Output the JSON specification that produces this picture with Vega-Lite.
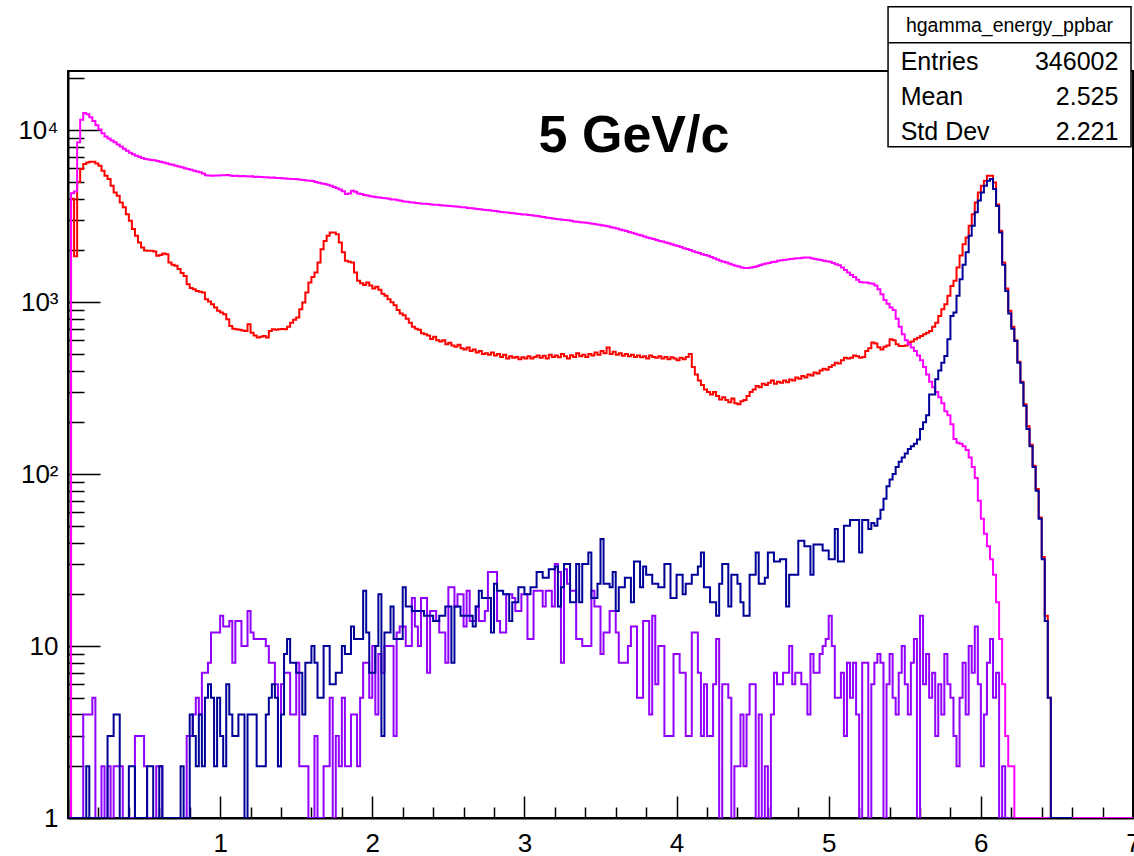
{
  "$schema": "https://vega.github.io/schema/vega-lite/v6.json",
  "width": 1065,
  "height": 747,
  "autosize": {"type": "none"},
  "padding": {"left": 68, "top": 71, "right": 1, "bottom": 38},
  "background": "white",
  "config": {"view": {"stroke": "#000", "strokeWidth": 2}, "font": "Liberation Sans"},
  "data": {"values": [
{"x":0.00,"m":1,"r":1,"b":1,"v":1},{"x":0.02,"m":4300,"r":4000,"b":1,"v":1},{"x":0.04,"m":4400,"r":1850,"b":1,"v":1},{"x":0.06,"m":8500,"r":5000,"b":1,"v":1},{"x":0.08,"m":11500,"r":5950,"b":1,"v":1},
{"x":0.10,"m":12600,"r":6360,"b":1,"v":4},{"x":0.12,"m":12400,"r":6500,"b":2,"v":4},{"x":0.14,"m":11900,"r":6560,"b":1,"v":4},{"x":0.16,"m":11300,"r":6560,"b":1,"v":5},{"x":0.18,"m":10700,"r":6400,"b":1,"v":1},
{"x":0.20,"m":10100,"r":6210,"b":1,"v":1},{"x":0.22,"m":9600,"r":5810,"b":1,"v":2},{"x":0.24,"m":9200,"r":5430,"b":1,"v":1},{"x":0.26,"m":8950,"r":5200,"b":3,"v":2},{"x":0.28,"m":8700,"r":4750,"b":3,"v":1},
{"x":0.30,"m":8500,"r":4350,"b":4,"v":2},{"x":0.32,"m":8250,"r":4160,"b":4,"v":2},{"x":0.34,"m":8050,"r":3800,"b":1,"v":2},{"x":0.36,"m":7800,"r":3560,"b":1,"v":1},{"x":0.38,"m":7600,"r":3250,"b":1,"v":1},
{"x":0.40,"m":7400,"r":2970,"b":2,"v":1},{"x":0.42,"m":7250,"r":2660,"b":2,"v":1},{"x":0.44,"m":7100,"r":2430,"b":1,"v":3},{"x":0.46,"m":7000,"r":2220,"b":1,"v":3},{"x":0.48,"m":6900,"r":2080,"b":1,"v":3},
{"x":0.50,"m":6800,"r":2000,"b":1,"v":2},{"x":0.52,"m":6750,"r":1990,"b":2,"v":1},{"x":0.54,"m":6700,"r":1990,"b":2,"v":1},{"x":0.56,"m":6680,"r":1970,"b":1,"v":1},{"x":0.58,"m":6620,"r":1860,"b":1,"v":2},
{"x":0.60,"m":6550,"r":1880,"b":2,"v":2},{"x":0.62,"m":6500,"r":1920,"b":1,"v":1},{"x":0.64,"m":6420,"r":1900,"b":1,"v":1},{"x":0.66,"m":6350,"r":1700,"b":1,"v":1},{"x":0.68,"m":6300,"r":1650,"b":1,"v":1},
{"x":0.70,"m":6220,"r":1630,"b":1,"v":1},{"x":0.72,"m":6150,"r":1560,"b":1,"v":1},{"x":0.74,"m":6080,"r":1480,"b":2,"v":1},{"x":0.76,"m":6000,"r":1420,"b":1,"v":1},{"x":0.78,"m":5950,"r":1270,"b":1,"v":3},
{"x":0.80,"m":5880,"r":1210,"b":4,"v":3},{"x":0.82,"m":5820,"r":1190,"b":3,"v":4},{"x":0.84,"m":5760,"r":1160,"b":2,"v":5},{"x":0.86,"m":5700,"r":1150,"b":4,"v":4},{"x":0.88,"m":5600,"r":1140,"b":2,"v":7},
{"x":0.90,"m":5480,"r":1040,"b":5,"v":7},{"x":0.92,"m":5450,"r":1010,"b":6,"v":8},{"x":0.94,"m":5430,"r":973,"b":5,"v":12},{"x":0.96,"m":5460,"r":930,"b":2,"v":12},{"x":0.98,"m":5450,"r":890,"b":5,"v":12},
{"x":1.00,"m":5480,"r":870,"b":3,"v":15},{"x":1.02,"m":5470,"r":850,"b":2,"v":13},{"x":1.04,"m":5490,"r":795,"b":6,"v":13},{"x":1.06,"m":5460,"r":727,"b":4,"v":14},{"x":1.08,"m":5420,"r":700,"b":3,"v":8},
{"x":1.10,"m":5440,"r":695,"b":3,"v":14},{"x":1.12,"m":5400,"r":690,"b":4,"v":14},{"x":1.14,"m":5410,"r":685,"b":4,"v":10},{"x":1.16,"m":5390,"r":680,"b":1,"v":10},{"x":1.18,"m":5380,"r":743,"b":4,"v":16},
{"x":1.20,"m":5400,"r":665,"b":4,"v":12},{"x":1.22,"m":5350,"r":640,"b":4,"v":11},{"x":1.24,"m":5360,"r":622,"b":2,"v":11},{"x":1.26,"m":5340,"r":630,"b":2,"v":11},{"x":1.28,"m":5320,"r":636,"b":2,"v":11},
{"x":1.30,"m":5330,"r":622,"b":4,"v":10},{"x":1.32,"m":5300,"r":680,"b":5,"v":8},{"x":1.34,"m":5310,"r":695,"b":6,"v":8},{"x":1.36,"m":5280,"r":690,"b":5,"v":6},{"x":1.38,"m":5270,"r":695,"b":2,"v":2},
{"x":1.40,"m":5250,"r":698,"b":4,"v":6},{"x":1.42,"m":5240,"r":695,"b":9,"v":7},{"x":1.44,"m":5220,"r":720,"b":11,"v":7},{"x":1.46,"m":5210,"r":760,"b":8,"v":4},{"x":1.48,"m":5200,"r":790,"b":8,"v":4},
{"x":1.50,"m":5180,"r":813,"b":7,"v":8},{"x":1.52,"m":5150,"r":910,"b":7,"v":2},{"x":1.54,"m":5130,"r":995,"b":4,"v":2},{"x":1.56,"m":5100,"r":1140,"b":8,"v":2},{"x":1.58,"m":5090,"r":1300,"b":8,"v":1},
{"x":1.60,"m":5060,"r":1400,"b":10,"v":1},{"x":1.62,"m":5000,"r":1490,"b":8,"v":3},{"x":1.64,"m":4950,"r":1700,"b":5,"v":1},{"x":1.66,"m":4900,"r":2030,"b":5,"v":1},{"x":1.68,"m":4870,"r":2270,"b":10,"v":2},
{"x":1.70,"m":4820,"r":2430,"b":10,"v":2},{"x":1.72,"m":4750,"r":2540,"b":6,"v":5},{"x":1.74,"m":4680,"r":2540,"b":6,"v":1},{"x":1.76,"m":4600,"r":2480,"b":7,"v":3},{"x":1.78,"m":4520,"r":2220,"b":7,"v":2},
{"x":1.80,"m":4420,"r":1950,"b":10,"v":5},{"x":1.82,"m":4260,"r":1740,"b":9,"v":2},{"x":1.84,"m":4280,"r":1720,"b":9,"v":2},{"x":1.86,"m":4450,"r":1700,"b":13,"v":4},{"x":1.88,"m":4380,"r":1490,"b":11,"v":4},
{"x":1.90,"m":4280,"r":1330,"b":11,"v":2},{"x":1.92,"m":4250,"r":1290,"b":11,"v":5},{"x":1.94,"m":4200,"r":1260,"b":21,"v":8},{"x":1.96,"m":4170,"r":1300,"b":12,"v":8},{"x":1.98,"m":4130,"r":1250,"b":7,"v":5},
{"x":2.00,"m":4100,"r":1200,"b":7,"v":10},{"x":2.02,"m":4080,"r":1230,"b":10,"v":4},{"x":2.04,"m":4060,"r":1180,"b":20,"v":9},{"x":2.06,"m":4030,"r":1120,"b":3,"v":7},{"x":2.08,"m":4020,"r":1090,"b":12,"v":10},
{"x":2.10,"m":3990,"r":1040,"b":12,"v":10},{"x":2.12,"m":3960,"r":1000,"b":17,"v":10},{"x":2.14,"m":3950,"r":960,"b":11,"v":3},{"x":2.16,"m":3910,"r":900,"b":11,"v":12},{"x":2.18,"m":3890,"r":860,"b":11,"v":13},
{"x":2.20,"m":3850,"r":840,"b":22,"v":13},{"x":2.22,"m":3840,"r":800,"b":17,"v":10},{"x":2.24,"m":3810,"r":760,"b":17,"v":10},{"x":2.26,"m":3800,"r":720,"b":16,"v":19},{"x":2.28,"m":3770,"r":700,"b":16,"v":13},
{"x":2.30,"m":3760,"r":690,"b":16,"v":10},{"x":2.32,"m":3740,"r":660,"b":16,"v":19},{"x":2.34,"m":3730,"r":650,"b":15,"v":19},{"x":2.36,"m":3720,"r":640,"b":15,"v":7},{"x":2.38,"m":3700,"r":610,"b":15,"v":16},
{"x":2.40,"m":3690,"r":630,"b":14,"v":16},{"x":2.42,"m":3680,"r":600,"b":14,"v":14},{"x":2.44,"m":3660,"r":590,"b":15,"v":12},{"x":2.46,"m":3650,"r":600,"b":15,"v":12},{"x":2.48,"m":3640,"r":570,"b":17,"v":8},
{"x":2.50,"m":3620,"r":580,"b":17,"v":22},{"x":2.52,"m":3610,"r":560,"b":8,"v":22},{"x":2.54,"m":3600,"r":550,"b":17,"v":17},{"x":2.56,"m":3590,"r":565,"b":17,"v":20},{"x":2.58,"m":3570,"r":540,"b":15,"v":20},
{"x":2.60,"m":3560,"r":530,"b":15,"v":13},{"x":2.62,"m":3530,"r":545,"b":15,"v":21},{"x":2.64,"m":3520,"r":520,"b":15,"v":14},{"x":2.66,"m":3500,"r":530,"b":13,"v":14},{"x":2.68,"m":3480,"r":510,"b":17,"v":17},
{"x":2.70,"m":3470,"r":520,"b":21,"v":14},{"x":2.72,"m":3450,"r":500,"b":19,"v":14},{"x":2.74,"m":3430,"r":505,"b":19,"v":16},{"x":2.76,"m":3420,"r":495,"b":19,"v":27},{"x":2.78,"m":3400,"r":510,"b":12,"v":27},
{"x":2.80,"m":3390,"r":490,"b":23,"v":27},{"x":2.82,"m":3370,"r":500,"b":21,"v":14},{"x":2.84,"m":3350,"r":480,"b":21,"v":12},{"x":2.86,"m":3330,"r":495,"b":20,"v":12},{"x":2.88,"m":3320,"r":470,"b":20,"v":20},
{"x":2.90,"m":3300,"r":485,"b":14,"v":20},{"x":2.92,"m":3290,"r":475,"b":18,"v":19},{"x":2.94,"m":3270,"r":480,"b":18,"v":16},{"x":2.96,"m":3260,"r":465,"b":22,"v":16},{"x":2.98,"m":3240,"r":478,"b":22,"v":20},
{"x":3.00,"m":3230,"r":470,"b":20,"v":20},{"x":3.02,"m":3210,"r":485,"b":20,"v":11},{"x":3.04,"m":3200,"r":470,"b":22,"v":11},{"x":3.06,"m":3180,"r":480,"b":22,"v":21},{"x":3.08,"m":3170,"r":490,"b":27,"v":21},
{"x":3.10,"m":3140,"r":475,"b":27,"v":21},{"x":3.12,"m":3130,"r":488,"b":25,"v":17},{"x":3.14,"m":3100,"r":470,"b":25,"v":21},{"x":3.16,"m":3090,"r":495,"b":28,"v":21},{"x":3.18,"m":3070,"r":480,"b":28,"v":17},
{"x":3.20,"m":3050,"r":490,"b":29,"v":30},{"x":3.22,"m":3040,"r":478,"b":17,"v":27},{"x":3.24,"m":3020,"r":500,"b":22,"v":8},{"x":3.26,"m":3000,"r":485,"b":30,"v":28},{"x":3.28,"m":2990,"r":470,"b":30,"v":23},
{"x":3.30,"m":2970,"r":492,"b":18,"v":21},{"x":3.32,"m":2950,"r":480,"b":18,"v":21},{"x":3.34,"m":2940,"r":505,"b":30,"v":11},{"x":3.36,"m":2920,"r":485,"b":18,"v":11},{"x":3.38,"m":2910,"r":495,"b":30,"v":10},
{"x":3.40,"m":2900,"r":480,"b":30,"v":10},{"x":3.42,"m":2880,"r":500,"b":35,"v":10},{"x":3.44,"m":2860,"r":490,"b":19,"v":21},{"x":3.46,"m":2840,"r":510,"b":19,"v":17},{"x":3.48,"m":2820,"r":495,"b":23,"v":17},
{"x":3.50,"m":2800,"r":520,"b":42,"v":9},{"x":3.52,"m":2780,"r":505,"b":23,"v":12},{"x":3.54,"m":2760,"r":545,"b":23,"v":12},{"x":3.56,"m":2730,"r":500,"b":22,"v":16},{"x":3.58,"m":2710,"r":515,"b":27,"v":16},
{"x":3.60,"m":2680,"r":495,"b":16,"v":12},{"x":3.62,"m":2650,"r":505,"b":22,"v":8},{"x":3.64,"m":2620,"r":488,"b":22,"v":8},{"x":3.66,"m":2590,"r":500,"b":25,"v":8},{"x":3.68,"m":2560,"r":485,"b":25,"v":10},
{"x":3.70,"m":2530,"r":495,"b":18,"v":13},{"x":3.72,"m":2500,"r":480,"b":31,"v":13},{"x":3.74,"m":2470,"r":490,"b":31,"v":5},{"x":3.76,"m":2440,"r":478,"b":22,"v":5},{"x":3.78,"m":2410,"r":485,"b":29,"v":14},
{"x":3.80,"m":2380,"r":470,"b":26,"v":14},{"x":3.82,"m":2350,"r":490,"b":26,"v":4},{"x":3.84,"m":2330,"r":480,"b":23,"v":15},{"x":3.86,"m":2300,"r":475,"b":23,"v":6},{"x":3.88,"m":2270,"r":485,"b":22,"v":10},
{"x":3.90,"m":2250,"r":470,"b":22,"v":10},{"x":3.92,"m":2220,"r":480,"b":30,"v":3},{"x":3.94,"m":2200,"r":465,"b":30,"v":3},{"x":3.96,"m":2170,"r":478,"b":19,"v":3},{"x":3.98,"m":2140,"r":470,"b":19,"v":9},
{"x":4.00,"m":2120,"r":460,"b":26,"v":9},{"x":4.02,"m":2090,"r":475,"b":26,"v":7},{"x":4.04,"m":2060,"r":465,"b":20,"v":7},{"x":4.06,"m":2040,"r":480,"b":23,"v":3},{"x":4.08,"m":2010,"r":500,"b":23,"v":3},
{"x":4.10,"m":1980,"r":420,"b":26,"v":12},{"x":4.12,"m":1950,"r":380,"b":26,"v":12},{"x":4.14,"m":1930,"r":350,"b":29,"v":7},{"x":4.16,"m":1900,"r":330,"b":35,"v":3},{"x":4.18,"m":1880,"r":310,"b":22,"v":6},
{"x":4.20,"m":1860,"r":300,"b":22,"v":3},{"x":4.22,"m":1830,"r":290,"b":18,"v":3},{"x":4.24,"m":1800,"r":300,"b":18,"v":6},{"x":4.26,"m":1770,"r":285,"b":15,"v":11},{"x":4.28,"m":1740,"r":272,"b":23,"v":1},
{"x":4.30,"m":1720,"r":280,"b":30,"v":6},{"x":4.32,"m":1700,"r":270,"b":30,"v":6},{"x":4.34,"m":1670,"r":262,"b":17,"v":5},{"x":4.36,"m":1650,"r":275,"b":26,"v":1},{"x":4.38,"m":1630,"r":258,"b":26,"v":2},
{"x":4.40,"m":1610,"r":255,"b":23,"v":2},{"x":4.42,"m":1590,"r":265,"b":18,"v":4},{"x":4.44,"m":1580,"r":270,"b":15,"v":2},{"x":4.46,"m":1580,"r":285,"b":15,"v":4},{"x":4.48,"m":1590,"r":300,"b":26,"v":6},
{"x":4.50,"m":1600,"r":310,"b":26,"v":6},{"x":4.52,"m":1620,"r":325,"b":35,"v":1},{"x":4.54,"m":1640,"r":320,"b":23,"v":4},{"x":4.56,"m":1660,"r":335,"b":23,"v":1},{"x":4.58,"m":1680,"r":330,"b":25,"v":2},
{"x":4.60,"m":1690,"r":340,"b":35,"v":1},{"x":4.62,"m":1710,"r":350,"b":35,"v":4},{"x":4.64,"m":1720,"r":335,"b":31,"v":7},{"x":4.66,"m":1740,"r":345,"b":31,"v":6},{"x":4.68,"m":1750,"r":340,"b":32,"v":6},
{"x":4.70,"m":1760,"r":350,"b":32,"v":7},{"x":4.72,"m":1770,"r":342,"b":17,"v":7},{"x":4.74,"m":1780,"r":355,"b":26,"v":10},{"x":4.76,"m":1790,"r":350,"b":26,"v":6},{"x":4.78,"m":1800,"r":365,"b":26,"v":7},
{"x":4.80,"m":1800,"r":358,"b":41,"v":7},{"x":4.82,"m":1810,"r":372,"b":41,"v":6},{"x":4.84,"m":1820,"r":365,"b":38,"v":6},{"x":4.86,"m":1820,"r":380,"b":38,"v":4},{"x":4.88,"m":1800,"r":375,"b":26,"v":9},
{"x":4.90,"m":1780,"r":390,"b":39,"v":7},{"x":4.92,"m":1770,"r":385,"b":39,"v":7},{"x":4.94,"m":1760,"r":400,"b":39,"v":9},{"x":4.96,"m":1740,"r":410,"b":36,"v":10},{"x":4.98,"m":1730,"r":405,"b":36,"v":11},
{"x":5.00,"m":1720,"r":420,"b":32,"v":15},{"x":5.02,"m":1690,"r":430,"b":32,"v":10},{"x":5.04,"m":1660,"r":445,"b":48,"v":5},{"x":5.06,"m":1640,"r":440,"b":31,"v":5},{"x":5.08,"m":1590,"r":460,"b":31,"v":7},
{"x":5.10,"m":1540,"r":475,"b":50,"v":3},{"x":5.12,"m":1490,"r":470,"b":50,"v":8},{"x":5.14,"m":1440,"r":475,"b":54,"v":5},{"x":5.16,"m":1400,"r":490,"b":54,"v":8},{"x":5.18,"m":1350,"r":485,"b":54,"v":4},
{"x":5.20,"m":1310,"r":475,"b":35,"v":1},{"x":5.22,"m":1300,"r":480,"b":54,"v":8},{"x":5.24,"m":1300,"r":520,"b":54,"v":8},{"x":5.26,"m":1290,"r":540,"b":48,"v":1},{"x":5.28,"m":1280,"r":582,"b":52,"v":6},
{"x":5.30,"m":1250,"r":575,"b":50,"v":8},{"x":5.32,"m":1190,"r":547,"b":55,"v":9},{"x":5.34,"m":1110,"r":530,"b":62,"v":8},{"x":5.36,"m":1030,"r":550,"b":72,"v":1},{"x":5.38,"m":980,"r":560,"b":85,"v":6},
{"x":5.40,"m":930,"r":608,"b":93,"v":9},{"x":5.42,"m":900,"r":600,"b":100,"v":5},{"x":5.44,"m":800,"r":570,"b":110,"v":4},{"x":5.46,"m":720,"r":556,"b":118,"v":7},{"x":5.48,"m":650,"r":556,"b":125,"v":10},
{"x":5.50,"m":600,"r":560,"b":132,"v":6},{"x":5.52,"m":570,"r":582,"b":140,"v":4},{"x":5.54,"m":545,"r":590,"b":145,"v":8},{"x":5.56,"m":520,"r":608,"b":150,"v":11},{"x":5.58,"m":490,"r":620,"b":159,"v":1},
{"x":5.60,"m":460,"r":636,"b":183,"v":15},{"x":5.62,"m":420,"r":650,"b":200,"v":6},{"x":5.64,"m":380,"r":665,"b":220,"v":9},{"x":5.66,"m":345,"r":680,"b":290,"v":5},{"x":5.68,"m":320,"r":720,"b":290,"v":7},
{"x":5.70,"m":300,"r":760,"b":356,"v":3},{"x":5.72,"m":280,"r":830,"b":400,"v":6},{"x":5.74,"m":258,"r":910,"b":445,"v":4},{"x":5.76,"m":232,"r":973,"b":486,"v":9},{"x":5.78,"m":220,"r":1090,"b":608,"v":6},
{"x":5.80,"m":195,"r":1240,"b":830,"v":5},{"x":5.82,"m":160,"r":1330,"b":870,"v":3},{"x":5.84,"m":152,"r":1590,"b":1090,"v":2},{"x":5.86,"m":150,"r":1870,"b":1360,"v":5},{"x":5.88,"m":145,"r":2170,"b":1650,"v":8},
{"x":5.90,"m":138,"r":2380,"b":1950,"v":4},{"x":5.92,"m":125,"r":2780,"b":2430,"v":10},{"x":5.94,"m":110,"r":3250,"b":2780,"v":7},{"x":5.96,"m":95,"r":3800,"b":3330,"v":13},{"x":5.98,"m":70,"r":4350,"b":3900,"v":6},
{"x":6.00,"m":55,"r":4750,"b":4350,"v":2},{"x":6.02,"m":45,"r":5080,"b":4750,"v":4},{"x":6.04,"m":38,"r":5430,"b":5080,"v":8},{"x":6.06,"m":32,"r":5430,"b":5200,"v":11},{"x":6.08,"m":26,"r":4960,"b":4550,"v":5},
{"x":6.10,"m":18,"r":3700,"b":3630,"v":7},{"x":6.12,"m":11,"r":2600,"b":2540,"v":1},{"x":6.14,"m":6,"r":1700,"b":1650,"v":2},{"x":6.16,"m":3,"r":1200,"b":1160,"v":1},{"x":6.18,"m":2,"r":890,"b":860,"v":1},
{"x":6.20,"m":2,"r":720,"b":700,"v":1},{"x":6.22,"m":1,"r":600,"b":595},{"x":6.24,"m":1,"r":450,"b":445},{"x":6.26,"m":1,"r":345,"b":340},{"x":6.28,"m":1,"r":255,"b":250},
{"x":6.30,"m":1,"r":190,"b":183},{"x":6.32,"m":1,"r":148,"b":145},{"x":6.34,"m":1,"r":112,"b":110},{"x":6.36,"m":1,"r":82,"b":80},{"x":6.38,"m":1,"r":56,"b":55},
{"x":6.40,"m":1,"r":33,"b":32},{"x":6.42,"m":1,"r":15,"b":14},{"x":6.44,"m":1,"r":5,"b":5},{"x":6.46,"m":1,"r":1,"b":1},{"x":6.48,"m":1,"r":1,"b":1},
{"x":6.50,"m":1,"r":1,"b":1},{"x":6.52,"m":1,"r":1,"b":1},{"x":6.54,"m":1,"r":1,"b":1},{"x":6.56,"m":1,"r":1,"b":1},{"x":6.58,"m":1,"r":1,"b":1},
{"x":6.60,"m":1,"r":1,"b":1},{"x":6.62,"m":1,"r":1},{"x":6.64,"m":1,"r":1},{"x":6.66,"m":1,"r":1},{"x":6.68,"m":1,"r":1},
{"x":6.70,"m":1,"r":1},{"x":6.72,"m":1,"r":1},{"x":6.74,"m":1,"r":1},{"x":6.76,"m":1,"r":1},{"x":6.78,"m":1,"r":1},
{"x":6.80,"m":1,"r":1},{"x":6.82,"m":1,"r":1},{"x":6.84,"m":1,"r":1},{"x":6.86,"m":1,"r":1},{"x":6.88,"m":1,"r":1},
{"x":6.90,"m":1,"r":1},{"x":6.92,"m":1,"r":1},{"x":6.94,"m":1,"r":1},{"x":6.96,"m":1,"r":1},{"x":6.98,"m":1,"r":1},
{"x":7.00,"m":1,"r":1}
  ]},
  "layer": [
    {
      "transform": [
        {"fold": ["r", "m", "v", "b"], "as": ["series", "count"]},
        {"filter": "isValid(datum.count)"}
      ],
      "mark": {"type": "line", "interpolate": "step-after", "strokeWidth": 2, "strokeJoin": "miter", "clip": true},
      "encoding": {
        "x": {
          "field": "x", "type": "quantitative",
          "scale": {"domain": [0, 7], "nice": false, "zero": false},
          "axis": {
            "title": null, "grid": false, "tickCount": 500,
            "values": [0,0.2,0.4,0.6,0.8,1,1.2,1.4,1.6,1.8,2,2.2,2.4,2.6,2.8,3,3.2,3.4,3.6,3.8,4,4.2,4.4,4.6,4.8,5,5.2,5.4,5.6,5.8,6,6.2,6.4,6.6,6.8,7],
            "labelExpr": "datum.value >= 1 && round(datum.value) == datum.value ? '' + datum.value : ''",
            "tickSize": {"condition": {"test": "round(datum.value) == datum.value", "value": -22}, "value": -11},
            "labelPadding": 34,
            "labelFont": "Liberation Sans", "labelFontSize": 26, "labelColor": "#000",
            "labelFlush": false, "labelOverlap": false, "labelBaseline": "top",
            "domainColor": "#000", "domainWidth": 2,
            "tickColor": "#000", "tickWidth": 1.5
          }
        },
        "y": {
          "field": "count", "type": "quantitative",
          "scale": {"type": "log", "domain": [1, 22100], "nice": false},
          "axis": {
            "title": null, "grid": false, "tickCount": 500,
            "values": [1,2,3,4,5,6,7,8,9,10,20,30,40,50,60,70,80,90,100,200,300,400,500,600,700,800,900,1000,2000,3000,4000,5000,6000,7000,8000,9000,10000,20000],
            "labelExpr": "datum.value == 1 ? '1' : datum.value == 10 ? '10' : datum.value == 100 ? '10²' : datum.value == 1000 ? '10³' : datum.value == 10000 ? '10⁴' : ''",
            "tickSize": {"condition": {"test": "indexof([1,10,100,1000,10000], datum.value) >= 0", "value": -32}, "value": -16},
            "labelPadding": 42,
            "labelFont": "Liberation Sans", "labelFontSize": 26, "labelColor": "#000",
            "labelFlush": false, "labelOverlap": false, "labelAlign": "right", "labelBaseline": "middle",
            "domainColor": "#000", "domainWidth": 2,
            "tickColor": "#000", "tickWidth": 1.5
          }
        },
        "color": {
          "field": "series", "type": "nominal",
          "scale": {"domain": ["m", "r", "b", "v"], "range": ["#ff00ff", "#ff0000", "#000099", "#9200ff"]},
          "legend": null
        }
      }
    },
    {
      "data": {"values": [{}]},
      "mark": {"type": "text", "text": "5 GeV/c", "font": "Liberation Sans", "fontWeight": "bold", "fontSize": 52, "align": "center", "baseline": "alphabetic", "color": "#000", "clip": false},
      "encoding": {"x": {"datum": 3.72}, "y": {"datum": 7470}}
    },
    {
      "data": {"values": [{}]},
      "mark": {"type": "rect", "fill": "#fff", "stroke": "#000", "strokeWidth": 1.5, "clip": false},
      "encoding": {"x": {"datum": 5.39}, "x2": {"datum": 6.987}, "y": {"datum": 52300}, "y2": {"datum": 8020}}
    },
    {
      "data": {"values": [{}]},
      "mark": {"type": "rule", "stroke": "#000", "strokeWidth": 1.5, "clip": false},
      "encoding": {"x": {"datum": 5.39}, "x2": {"datum": 6.987}, "y": {"datum": 32270}}
    },
    {
      "data": {"values": [{}]},
      "mark": {"type": "text", "text": "hgamma_energy_ppbar", "font": "Liberation Sans", "fontSize": 19.5, "align": "center", "baseline": "alphabetic", "color": "#000", "clip": false},
      "encoding": {"x": {"datum": 6.188}, "y": {"datum": 37400}}
    },
    {
      "data": {"values": [{}]},
      "mark": {"type": "text", "text": ["Entries", "Mean", "Std Dev"], "lineHeight": 35, "font": "Liberation Sans", "fontSize": 25, "align": "left", "baseline": "alphabetic", "color": "#000", "clip": false},
      "encoding": {"x": {"datum": 5.473}, "y": {"datum": 22390}}
    },
    {
      "data": {"values": [{}]},
      "mark": {"type": "text", "text": ["346002", "2.525", "2.221"], "lineHeight": 35, "font": "Liberation Sans", "fontSize": 25, "align": "right", "baseline": "alphabetic", "color": "#000", "clip": false},
      "encoding": {"x": {"datum": 6.904}, "y": {"datum": 22390}}
    }
  ]
}
